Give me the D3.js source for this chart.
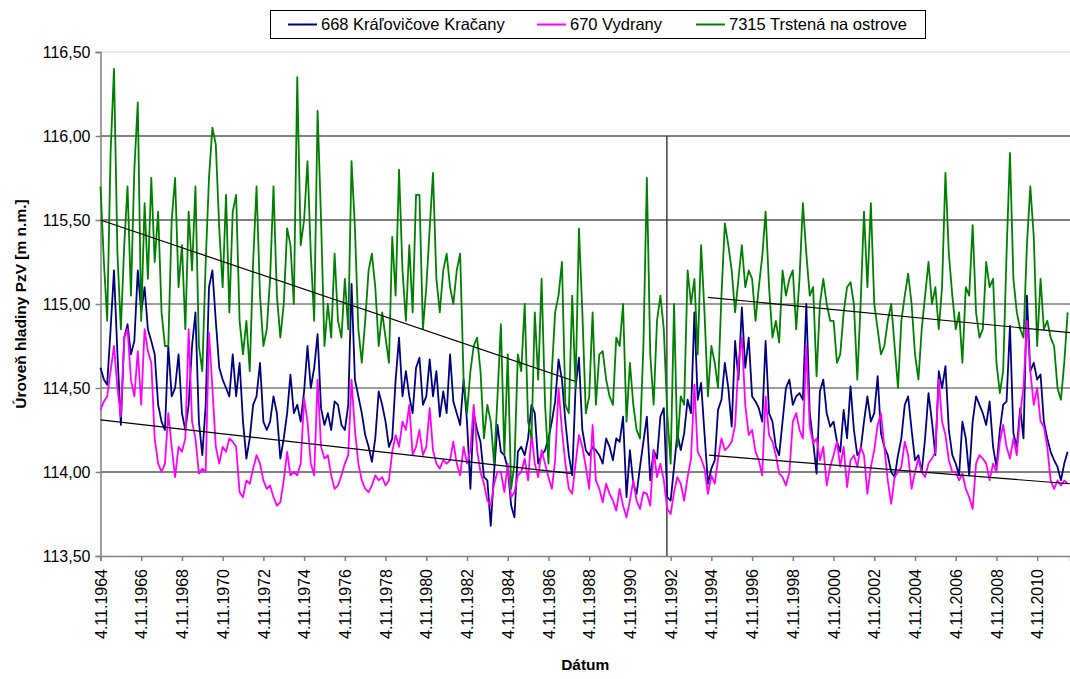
<!DOCTYPE html>
<html>
<head>
<meta charset="utf-8">
<script src="https://cdnjs.cloudflare.com/ajax/libs/d3/7.8.5/d3.min.js"></script>
<style>
  body { margin: 0; background: #fff; }
  text { font-family: "Liberation Sans", Arial, sans-serif; }
</style>
</head>
<body>
<div id="chart"></div>
<script>
// series: one reading every 2 months starting 4.11.1964
var startDate = "4.11.1964";
var stepMonths = 2;

var names = ["668 Kráľovičove Kračany", "670 Vydrany", "7315 Trstená na ostrove"];

var kracany = [
  114.62,114.55,114.52,114.85,115.20,114.70,114.28,114.80,114.88,114.70,
  114.78,115.20,114.95,115.10,114.85,114.78,114.70,114.40,114.30,114.25,
  114.75,114.45,114.50,114.70,114.35,114.25,114.40,114.75,114.95,114.30,
  114.10,114.40,115.10,115.20,114.90,114.62,114.55,114.50,114.45,114.70,
  114.45,114.65,114.30,114.08,114.20,114.40,114.45,114.65,114.30,114.25,
  114.30,114.45,114.35,114.08,114.20,114.35,114.58,114.35,114.40,114.30,
  114.48,114.75,114.50,114.62,114.82,114.38,114.28,114.35,114.25,114.42,
  114.40,114.28,114.25,114.40,115.12,114.55,114.45,114.35,114.22,114.15,
  114.06,114.20,114.48,114.40,114.30,114.15,114.20,114.55,114.80,114.45,
  114.60,114.45,114.35,114.62,114.68,114.40,114.45,
  114.67,114.45,114.60,114.33,114.48,114.35,114.70,114.42,114.35,114.28,
  114.55,114.30,113.90,114.35,114.25,114.18,113.97,113.95,113.68,114.00,
  114.28,114.12,114.10,114.02,113.80,113.73,114.12,114.15,114.10,114.20,
  114.40,114.35,114.05,114.10,114.13,114.20,114.30,114.42,114.67,114.55,
  114.30,114.10,113.98,114.50,114.68,114.25,114.13,114.10,114.15,114.13,
  114.10,114.05,114.20,114.15,114.07,114.20,114.18,114.33,113.85,114.13,
  113.93,113.87,114.03,114.18,114.33,113.95,114.13,114.08,114.33,114.38,
  113.85,113.83,114.03,114.23,114.13,114.23,114.43,114.35,114.95,114.43,
  114.53,114.23,113.93,114.02,114.07,114.37,114.43,114.65,114.50,114.27,
  114.78,114.55,114.98,114.62,114.80,
  114.45,114.42,114.38,114.30,114.78,114.35,114.30,114.15,114.10,114.30,
  114.50,114.55,114.40,114.45,114.47,114.43,115.00,114.35,114.18,113.99,
  114.48,114.55,114.35,114.27,114.30,114.18,114.12,114.37,114.20,114.51,
  114.25,114.10,114.13,114.30,114.45,114.30,114.35,114.57,114.23,114.15,
  114.10,114.00,113.97,114.10,114.20,114.40,114.45,114.25,114.07,114.10,
  114.00,114.20,114.47,114.30,114.10,114.60,114.50,114.63,114.25,114.10,
  114.05,113.98,114.30,114.20,113.98,114.30,114.45,114.40,114.35,114.28,
  114.42,114.15,114.03,114.25,114.40,114.42,114.87,114.23,114.15,114.38,
  114.20,115.05,114.60,114.65,114.55,114.58,114.30,114.20,114.12,114.07,
  114.03,113.95,114.05,114.12
];

var vydrany = [
  114.37,114.42,114.45,114.60,114.75,114.50,114.33,114.80,114.85,114.55,
  114.45,114.72,114.40,114.85,114.72,114.65,114.20,114.05,114.00,114.05,
  114.35,114.15,113.97,114.15,114.12,114.20,114.85,114.30,114.20,113.99,
  114.02,114.00,114.83,114.50,114.15,114.05,114.15,114.12,114.20,114.18,
  114.15,113.88,113.85,113.95,113.93,114.02,114.10,114.05,113.95,113.90,
  113.92,113.85,113.80,113.82,113.95,114.12,113.98,114.00,113.98,114.05,
  114.44,114.30,114.05,113.98,114.55,114.15,114.08,114.10,113.98,113.90,
  113.92,113.98,114.05,114.10,114.55,114.25,114.05,113.95,113.90,113.88,
  113.92,113.98,113.95,113.97,113.92,113.95,114.12,114.22,114.15,114.30,
  114.25,114.40,114.10,114.15,114.25,114.10,114.15,
  114.38,114.13,114.05,114.02,114.07,114.05,114.07,114.18,114.05,113.98,
  114.15,114.05,114.13,114.40,114.13,114.00,113.93,113.83,113.80,113.93,
  114.00,114.00,113.88,114.05,113.85,113.88,113.98,114.00,114.08,113.95,
  114.23,114.05,113.97,114.13,114.05,113.97,113.90,114.07,114.50,114.25,
  114.05,113.90,113.87,114.05,114.22,114.15,114.03,113.90,114.28,113.95,
  113.90,113.82,113.93,113.87,113.83,113.77,113.90,113.80,113.73,113.83,
  113.95,113.83,113.78,113.88,113.87,113.80,114.13,113.97,114.05,113.95,
  113.78,113.75,113.88,113.97,113.93,113.83,113.97,114.08,114.52,114.12,
  114.08,114.02,113.87,113.98,113.93,114.08,114.20,114.13,114.15,114.18,
  114.28,114.65,114.80,114.40,114.22,
  114.25,114.12,114.07,113.98,114.45,114.22,114.18,114.10,113.99,113.97,
  113.92,114.00,114.30,114.35,114.25,114.20,114.75,114.27,114.17,114.20,
  114.07,114.15,113.92,114.03,114.10,114.18,114.03,114.15,113.91,114.07,
  114.10,114.03,114.15,114.10,113.87,114.03,114.13,114.28,114.35,114.15,
  113.95,113.81,113.97,114.00,114.03,114.18,114.10,113.90,114.00,114.08,
  114.00,113.97,114.05,114.08,114.12,114.55,114.30,114.22,114.07,114.00,
  114.00,113.95,113.99,113.90,113.85,113.78,114.05,114.10,114.08,114.05,
  113.95,114.05,114.00,114.18,114.28,114.15,114.08,114.20,114.10,114.35,
  114.50,114.90,114.60,114.40,114.50,114.30,114.27,114.15,113.95,113.90,
  113.95,113.92,113.95,113.93
];

var trstena = [
  115.70,115.25,114.90,115.90,116.40,115.30,114.85,115.35,115.70,115.05,
  115.80,116.20,114.90,115.60,115.15,115.75,115.25,115.55,114.95,114.75,
  114.75,115.50,115.75,115.10,115.35,114.85,115.55,115.20,115.70,114.75,
  114.60,115.25,115.75,116.05,115.95,115.45,115.10,115.65,114.95,115.55,
  115.65,114.90,114.70,114.90,114.60,115.25,115.70,115.05,114.75,114.85,
  115.15,115.70,115.05,114.80,115.00,115.45,115.35,115.00,116.35,115.35,
  115.50,115.85,115.30,114.90,116.15,115.50,114.75,115.00,114.80,115.30,
  114.90,114.80,115.15,114.85,115.85,115.45,114.85,114.65,114.90,115.20,
  115.30,115.10,114.75,114.95,114.80,114.65,115.40,115.05,115.80,115.20,
  114.90,115.35,114.95,115.65,115.65,114.85,115.10,
  115.45,115.78,115.15,114.95,115.20,115.30,115.10,115.00,115.20,115.30,
  114.55,114.35,114.60,114.75,114.80,114.60,114.20,114.40,114.30,114.05,
  114.45,114.88,114.10,114.70,113.90,114.05,114.70,114.60,115.00,114.30,
  114.20,114.95,114.55,115.15,114.40,114.05,114.60,114.95,115.05,115.25,
  114.40,114.35,115.05,114.50,115.45,114.95,114.35,114.45,114.95,114.40,
  114.70,114.72,114.55,114.45,114.40,114.80,114.75,115.00,114.30,114.65,
  114.40,114.25,114.20,114.75,115.75,114.70,114.40,114.90,115.05,114.85,
  114.35,114.05,115.00,114.15,114.45,114.40,115.20,115.00,115.15,114.70,
  115.35,114.95,114.45,114.75,114.65,114.50,115.05,115.48,115.35,115.20,
  114.95,115.15,115.35,115.10,115.20,
  115.15,114.90,115.10,115.28,115.55,115.10,114.80,114.90,114.77,115.20,
  115.05,115.15,115.20,114.85,115.15,115.60,115.30,115.05,115.10,114.57,
  115.00,115.15,115.00,114.90,114.90,114.65,114.70,114.95,115.10,115.13,
  115.00,114.55,115.00,115.55,115.10,115.60,115.00,114.85,114.70,114.75,
  114.90,115.00,114.75,114.50,114.90,115.05,115.18,115.00,114.70,114.55,
  114.85,115.05,115.25,115.00,115.10,114.85,115.10,115.78,115.30,115.05,
  114.85,114.95,114.65,115.10,115.05,115.47,114.95,114.80,114.85,115.25,
  115.10,115.15,114.65,114.47,114.60,115.30,115.90,115.15,114.95,114.85,
  114.80,115.35,115.70,115.40,114.75,115.15,114.85,114.90,114.80,114.75,
  114.50,114.43,114.65,114.95
];

// linear trends, [date, value] end points
var trendUpper1 = [["4.11.1964", 115.50], ["20.02.1988", 114.54]];
var trendLower1 = [["4.11.1964", 114.31], ["15.01.1988", 113.99]];
var trendUpper2 = [["1.09.1994", 115.04], ["15.06.2012", 114.83]];
var trendLower2 = [["20.09.1994", 114.10], ["15.06.2012", 113.93]];

var damDate = "28.08.1992";
var axisStart = "4.11.1964", axisEnd = "15.06.2012";

var yTicks = [113.5, 114.0, 114.5, 115.0, 115.5, 116.0, 116.5];
var xTickLabels = ["4.11.1964","4.11.1966","4.11.1968","4.11.1970","4.11.1972","4.11.1974",
  "4.11.1976","4.11.1978","4.11.1980","4.11.1982","4.11.1984","4.11.1986","4.11.1988",
  "4.11.1990","4.11.1992","4.11.1994","4.11.1996","4.11.1998","4.11.2000","4.11.2002",
  "4.11.2004","4.11.2006","4.11.2008","4.11.2010"];

var colors = ["#000080", "#ff00ff", "#008000"];

var parse = d3.timeParse("%d.%m.%Y");
var t0 = parse(startDate);
function dated(values) {
  return values.map(function (v, i) {
    return { date: d3.timeMonth.offset(t0, i * stepMonths), value: v };
  });
}
var series = [dated(kracany), dated(vydrany), dated(trstena)];

var W = 1070, H = 679;
var margin = { top: 52, right: 0, bottom: 123, left: 100.5 };

var svg = d3.select("#chart").append("svg").attr("width", W).attr("height", H);

var x = d3.scaleTime()
  .domain([parse(axisStart), parse(axisEnd)])
  .range([margin.left, W - margin.right]);
var y = d3.scaleLinear()
  .domain([113.5, 116.5])
  .range([H - margin.bottom, margin.top]);

var fmt = d3.formatLocale({ decimal: ",", thousands: " ", grouping: [3], currency: ["", ""] }).format(".2f");

// gridlines
function gridStyle(v) {
  if (v === 116.5) return ["#d4d4d4", 1];
  if (v >= 115.5) return ["#808080", 2];
  if (v >= 114.5) return ["#3a3a3a", 1.2];
  return ["#000", 1.2];
}
svg.append("g")
  .selectAll("line")
  .data(yTicks.filter(function (v) { return v > 113.5; }))
  .enter()
  .append("line")
  .attr("x1", margin.left)
  .attr("x2", W)
  .attr("y1", function (d) { return y(d); })
  .attr("y2", function (d) { return y(d); })
  .attr("stroke", function (d) { return gridStyle(d)[0]; })
  .attr("stroke-width", function (d) { return gridStyle(d)[1]; });

// dam line
svg.append("line")
  .attr("x1", x(parse(damDate))).attr("x2", x(parse(damDate)))
  .attr("y1", y(116)).attr("y2", y(113.5))
  .attr("stroke", "#404040").attr("stroke-width", 1.5);

// axes
var yAxis = svg.append("g")
  .attr("transform", "translate(" + margin.left + ",0)")
  .call(d3.axisLeft(y).tickValues(yTicks).tickFormat(fmt).tickSize(5).tickPadding(5));
var xAxis = svg.append("g")
  .attr("transform", "translate(0," + y(113.5) + ")")
  .call(d3.axisBottom(x).tickValues(xTickLabels.map(parse)).tickFormat(d3.timeFormat("%-d.%m.%Y")).tickSize(5));

[yAxis, xAxis].forEach(function (a) {
  a.select(".domain").attr("stroke", "#808080").attr("stroke-width", 1.5);
  a.selectAll(".tick line").attr("stroke", "#808080").attr("stroke-width", 1.5);
  a.selectAll("text").attr("fill", "#000").style("font-size", "16px")
    .style("font-family", '"Liberation Sans", Arial, sans-serif');
});
xAxis.selectAll("text")
  .attr("transform", "rotate(-90)")
  .attr("text-anchor", "end")
  .attr("x", -13)
  .attr("y", 0)
  .attr("dy", "0.35em");

// series lines
var line = d3.line()
  .x(function (d) { return x(d.date); })
  .y(function (d) { return y(d.value); });

svg.append("g")
  .selectAll("path")
  .data(series)
  .enter()
  .append("path")
  .attr("d", line)
  .attr("fill", "none")
  .attr("stroke", function (d, i) { return colors[i]; })
  .attr("stroke-width", 1.8)
  .attr("stroke-linejoin", "round");

// trend lines
var trendLine = d3.line()
  .x(function (d) { return x(parse(d[0])); })
  .y(function (d) { return y(d[1]); });
svg.append("g")
  .selectAll("path")
  .data([trendUpper1, trendLower1, trendUpper2, trendLower2])
  .enter()
  .append("path")
  .attr("d", trendLine)
  .attr("fill", "none")
  .attr("stroke", "#000")
  .attr("stroke-width", 1.2);

// axis titles
svg.append("text")
  .attr("x", (margin.left + W) / 2)
  .attr("y", 670)
  .attr("text-anchor", "middle")
  .style("font-size", "15.5px")
  .style("font-weight", "bold")
  .text("Dátum");
svg.append("text")
  .attr("transform", "translate(26," + (y(115)) + ") rotate(-90)")
  .attr("text-anchor", "middle")
  .style("font-size", "15.5px")
  .style("font-weight", "bold")
  .text("Úroveň hladiny PzV [m n.m.]");

// legend
var legend = svg.append("g");
legend.append("rect")
  .attr("x", 270.5).attr("y", 10.5).attr("width", 655).attr("height", 28)
  .attr("fill", "#fff").attr("stroke", "#000").attr("stroke-width", 1);
var legendX = [288, 537, 696];
names.forEach(function (n, i) {
  legend.append("line")
    .attr("x1", legendX[i]).attr("x2", legendX[i] + 29)
    .attr("y1", 24.5).attr("y2", 24.5)
    .attr("stroke", colors[i]).attr("stroke-width", 2);
  legend.append("text")
    .attr("x", legendX[i] + 33)
    .attr("y", 30)
    .style("font-size", "16.5px")
    .text(n);
});
</script>
</body>
</html>
